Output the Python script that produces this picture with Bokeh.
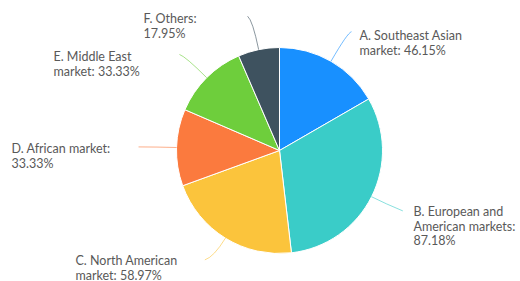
import math
from bokeh.plotting import figure
from bokeh.models import Range1d, ColumnDataSource
from bokeh.core.properties import value
from bokeh.embed import file_html
from bokeh.resources import INLINE

# ---- data ----
labels = ["A. Southeast Asian market", "B. European and American markets",
          "C. North American market", "D. African market",
          "E. Middle East market", "F. Others"]
values = [46.15, 87.18, 58.97, 33.33, 33.33, 17.95]
label_lines = [["A. Southeast Asian", "market: 46.15%"],
               ["B. European and", "American markets:", "87.18%"],
               ["C. North American", "market: 58.97%"],
               ["D. African market:", "33.33%"],
               ["E. Middle East", "market: 33.33%"],
               ["F. Others:", "17.95%"]]
colors = ["#1890FF", "#3ACCC8", "#FBC43C", "#FB7A3E", "#6ECE3C", "#3E525F"]

# ---- layout (figure pixels, y measured from top) ----
W, H = 520, 281
CX, CY, R = 279, 150, 103
# label-line: radial length to control point, end point offset from control
ctrl_len = [33, 16, 22, 20, 30, 30]
end_off = [(4, -1), (17, 7), (-9, 3), (-18, 0), (-6, -2), (-5, -4)]
text_pos = [(359, 35), (413, 211), (75, 260), (11, 148), (53, 56), (143, 18)]
LINE_H = 14.5

def Y(y):  # top-down pixel -> data
    return H - y

p = figure(width=W, height=H, output_backend="svg", toolbar_location=None,
           x_range=Range1d(0, W), y_range=Range1d(0, H),
           min_border=0, outline_line_color=None)
p.axis.visible = False
p.grid.visible = False
p.background_fill_color = "white"
p.border_fill_color = "white"

total = sum(values)
starts, ends, mids = [], [], []
acc = 0.0
for v in values:
    t0 = acc / total * 2 * math.pi
    acc += v
    t1 = acc / total * 2 * math.pi
    starts.append(math.pi / 2 - t1)
    ends.append(math.pi / 2 - t0)
    mids.append((t0 + t1) / 2)

src = ColumnDataSource(dict(x=[CX] * len(values), y=[Y(CY)] * len(values),
                            start=starts, end=ends, color=colors))
p.wedge(x="x", y="y", radius=R, start_angle="start", end_angle="end",
        fill_color="color", line_color="white", line_width=1, source=src,
        direction="anticlock")

# label lines
for i, m in enumerate(mids):
    dx, dy = math.sin(m), -math.cos(m)
    sx, sy = CX + R * dx, CY + R * dy
    cx, cy = CX + (R + ctrl_len[i]) * dx, CY + (R + ctrl_len[i]) * dy
    ex, ey = cx + end_off[i][0], cy + end_off[i][1]
    p.quadratic(x0=[sx], y0=[Y(sy)], x1=[ex], y1=[Y(ey)], cx=[cx], cy=[Y(cy)],
                line_color=colors[i], line_alpha=0.6, line_width=1)

# label texts
tx, ty, tt = [], [], []
for i, lines in enumerate(label_lines):
    for j, s in enumerate(lines):
        tx.append(text_pos[i][0])
        ty.append(Y(text_pos[i][1] + j * LINE_H))
        tt.append(s)
p.text(x=tx, y=ty, text=tt, text_font=value("Lato"), text_font_size="12.5px",
       text_color="#595959", text_align="left", text_baseline="middle")

open("out.html", "w").write(file_html(p, INLINE))
